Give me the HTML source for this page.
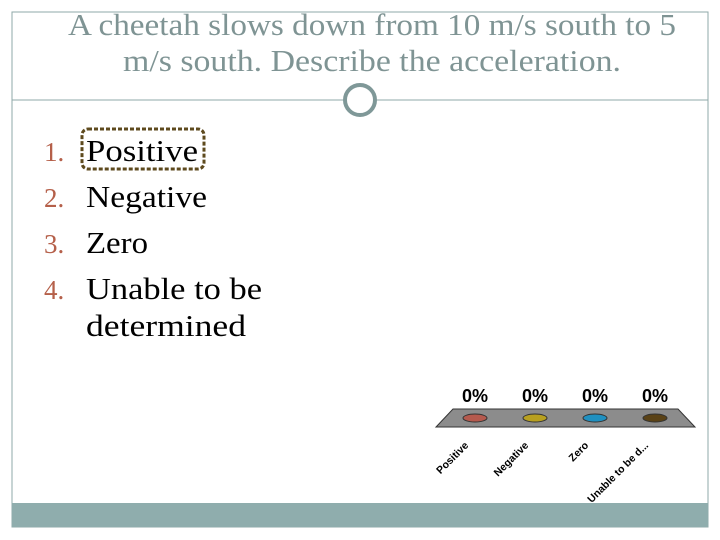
<!DOCTYPE html>
<html><head><meta charset="utf-8"><style>
body{margin:0;background:#fff;width:720px;height:540px;overflow:hidden}
svg{display:block}
</style></head><body>
<svg width="720" height="540" font-family="Liberation Serif, serif">
<rect x="12" y="12" width="696" height="515" fill="#fff" stroke="#8fa8a8" stroke-width="1"/>
<rect x="12" y="503" width="696" height="24" fill="#8fadad"/>
<g fill="#7f9494" font-size="31">
<text x="68" y="35" textLength="608" lengthAdjust="spacingAndGlyphs">A cheetah  slows down from 10 m/s south to 5</text>
<text x="123" y="71" textLength="498" lengthAdjust="spacingAndGlyphs">m/s south.  Describe the acceleration.</text>
</g>
<line x1="12" y1="100" x2="343" y2="100" stroke="#8fa8a8"/>
<line x1="377" y1="100" x2="708" y2="100" stroke="#8fa8a8"/>
<circle cx="360" cy="100" r="15" fill="#fff" stroke="#7f9898" stroke-width="4"/>
<g font-size="31">
<text x="44" y="161" fill="#b5604a" font-size="27">1.</text><text x="86" y="161" textLength="112" lengthAdjust="spacingAndGlyphs">Positive</text>
<text x="44" y="207" fill="#b5604a" font-size="27">2.</text><text x="86" y="207" textLength="121" lengthAdjust="spacingAndGlyphs">Negative</text>
<text x="44" y="253" fill="#b5604a" font-size="27">3.</text><text x="86" y="253" textLength="62" lengthAdjust="spacingAndGlyphs">Zero</text>
<text x="44" y="299" fill="#b5604a" font-size="27">4.</text><text x="86" y="299" textLength="176" lengthAdjust="spacingAndGlyphs">Unable to be</text>
<text x="86" y="336" textLength="160" lengthAdjust="spacingAndGlyphs">determined</text>
</g>
<rect x="82" y="129" width="122" height="40" rx="6" fill="none" stroke="#5e4a1e" stroke-width="3" stroke-dasharray="4,2"/>
<g id="chart"></g>
</svg>
<script>
const categories=["Positive","Negative","Zero","Unable to be d..."];
const values=[0,0,0,0];
const colors=["#b55a4e","#b8a020","#2090c0","#5a4216"];
const NS="http://www.w3.org/2000/svg";
const g=document.getElementById('chart');
function mk(t,a){const e=document.createElementNS(NS,t);for(const k in a)e.setAttribute(k,a[k]);g.appendChild(e);return e;}
const x0=475,step=60,baseY=418,maxH=120;
function xPos(i){return x0+i*step;}
function hOf(v){return v/100*maxH;}
const floor=mk('polygon',{points:"453,409 678,409 695,427 436,427",fill:"#8c8c8c",stroke:"#333"});


categories.forEach((c,i)=>{
  const x=xPos(i),h=hOf(values[i]);
  if(h>0){const b=mk('rect',{x:x-11,y:baseY-h,width:22,height:h,fill:colors[i]});
    
    }
  const e=mk('ellipse',{cx:x,cy:baseY,rx:12,ry:4,fill:colors[i],stroke:"#333","stroke-width":1});
  
  
  const t=mk('text',{x:x,y:baseY-h-16,"text-anchor":"middle","font-family":"Liberation Sans, sans-serif","font-weight":"bold","font-size":"18"});
  t.textContent=values[i]+"%";
  
  
  const lx=x-6,ly=446;
  const l=mk('text',{x:lx,y:ly,"text-anchor":"end","font-family":"Liberation Sans, sans-serif","font-weight":"bold","font-size":"10.5",transform:`rotate(-45 ${lx} ${ly})`});
  l.textContent=c;
  
  
});
</script>
</body></html>
